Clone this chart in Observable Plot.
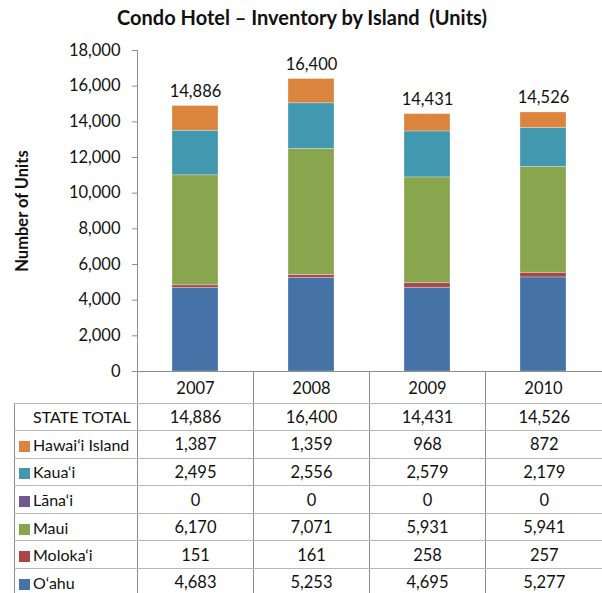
<!DOCTYPE html>
<html>
<head>
<meta charset="utf-8">
<script src="https://cdn.jsdelivr.net/npm/d3@7"></script>
<script src="https://cdn.jsdelivr.net/npm/@observablehq/plot@0.6"></script>
<style>
  html, body { margin: 0; padding: 0; background: #fff; }
  #wrap { position: relative; width: 602px; height: 593px; overflow: hidden; font-family: Lato, "Open Sans", sans-serif; color: #111; }
  #title { position: absolute; left: 0; top: 5px; width: 604px; text-align: center; font-weight: bold; font-size: 20px; }
  #chart { position: absolute; left: 0; top: 0; }
  #tbl { position: absolute; left: 14px; top: 371px; border-collapse: collapse; table-layout: fixed; font-size: 16.5px; }
  #tbl td { padding: 0; text-align: center; border-top: 1px solid #b8b8b8; border-bottom: 1px solid #b8b8b8; border-left: 1px solid #8e8e8e; white-space: nowrap; overflow: hidden; }
  #tbl tr.head td { border-top: none; }
  #tbl tr.head td.lab { border-left: none; }
  #tbl td.lab { text-align: left; padding-left: 4px; font-size: 16px; }
  .sw { display: inline-block; width: 11px; height: 11px; margin-right: 3px; vertical-align: -1px; }
</style>
</head>
<body>
<div id="wrap">
  <div id="chart"></div>
  <div id="title">Condo Hotel – Inventory by Island&nbsp; (Units)</div>
  <table id="tbl"></table>
</div>
<script>
const years = ["2007", "2008", "2009", "2010"];
const islands = ["O‘ahu", "Moloka‘i", "Maui", "Lāna‘i", "Kaua‘i", "Hawai‘i Island"];
const colors = ["#4572A7", "#AA4643", "#89A54E", "#71588F", "#4198AF", "#DB843D"];
const oahu = [4683, 5253, 4695, 5277];
const molokai = [151, 161, 258, 257];
const maui = [6170, 7071, 5931, 5941];
const lanai = [0, 0, 0, 0];
const kauai = [2495, 2556, 2579, 2179];
const hawaii = [1387, 1359, 968, 872];
const stateTotal = [14886, 16400, 14431, 14526];
const yTicks = [0, 2000, 4000, 6000, 8000, 10000, 12000, 14000, 16000, 18000];

const series = [oahu, molokai, maui, lanai, kauai, hawaii];
const data = [];
islands.forEach((isl, i) => years.forEach((yr, j) => data.push({year: yr, island: isl, value: series[i][j]})));
const totals = years.map((yr, j) => ({year: yr, total: stateTotal[j]}));
const fmt = d3.format(",");

const chart = Plot.plot({
  width: 602,
  height: 405,
  marginLeft: 137,
  marginRight: 0,
  marginTop: 50,
  marginBottom: 34,
  style: {fontFamily: "Lato, 'Open Sans', sans-serif", fontSize: "16px", color: "#111", background: "transparent"},
  x: {domain: years, paddingInner: 0.6, paddingOuter: 0.3, label: null},
  y: {domain: [0, 18000], label: null},
  color: {domain: islands, range: colors},
  marks: [
    Plot.barY(data, {x: "year", y: "value", fill: "island", order: islands, stroke: "#ffffff", strokeOpacity: 0.35, strokeWidth: 0.8}),
    Plot.text(totals, {x: "year", y: "total", text: d => fmt(d.total), lineAnchor: "bottom", dy: -9, fontSize: 16.5, fill: "#111"}),
    Plot.axisY({ticks: yTicks, tickFormat: d => fmt(d), tickSize: 5, tickPadding: 12, fontSize: 16.5, stroke: "#8e8e8e", label: null}),
    Plot.axisX({tickSize: 0, tickPadding: 11, fontSize: 16.5, label: null}),
    Plot.frame({anchor: "left", stroke: "#8e8e8e"}),
    Plot.ruleY([0], {stroke: "#8e8e8e", strokeWidth: 1.2}),
    Plot.text(["Number of Units"], {frameAnchor: "left", textAnchor: "middle", text: d => d, rotate: -90, dx: -115, fontWeight: "bold", fontSize: 16.5, fill: "#111"})
  ]
});
document.getElementById("chart").appendChild(chart);

// Data table
const tbl = document.getElementById("tbl");
const colW = [123, 116, 116, 116, 117];
const cg = document.createElement("colgroup");
colW.forEach(w => { const c = document.createElement("col"); c.style.width = w + "px"; cg.appendChild(c); });
tbl.appendChild(cg);
tbl.style.width = d3.sum(colW) + "px";

function addRow(cls, label, swatch, values, h) {
  const tr = document.createElement("tr");
  if (cls) tr.className = cls;
  tr.style.height = h + "px";
  const td0 = document.createElement("td");
  td0.className = "lab";
  if (swatch) {
    const s = document.createElement("span");
    s.className = "sw";
    s.style.background = swatch;
    td0.appendChild(s);
  } else if (label) {
    td0.style.paddingLeft = "18px";
  }
  td0.appendChild(document.createTextNode(label));
  tr.appendChild(td0);
  values.forEach(v => {
    const td = document.createElement("td");
    td.textContent = v;
    tr.appendChild(td);
  });
  tbl.appendChild(tr);
}
addRow("head", "", null, ["", "", "", ""], 32);
addRow("", "STATE TOTAL", null, stateTotal.map(fmt), 27.6);
const tableOrder = [5, 4, 3, 2, 1, 0];
tableOrder.forEach(i => addRow("", islands[i], colors[i], series[i].map(fmt), 27.6));
</script>
</body>
</html>
